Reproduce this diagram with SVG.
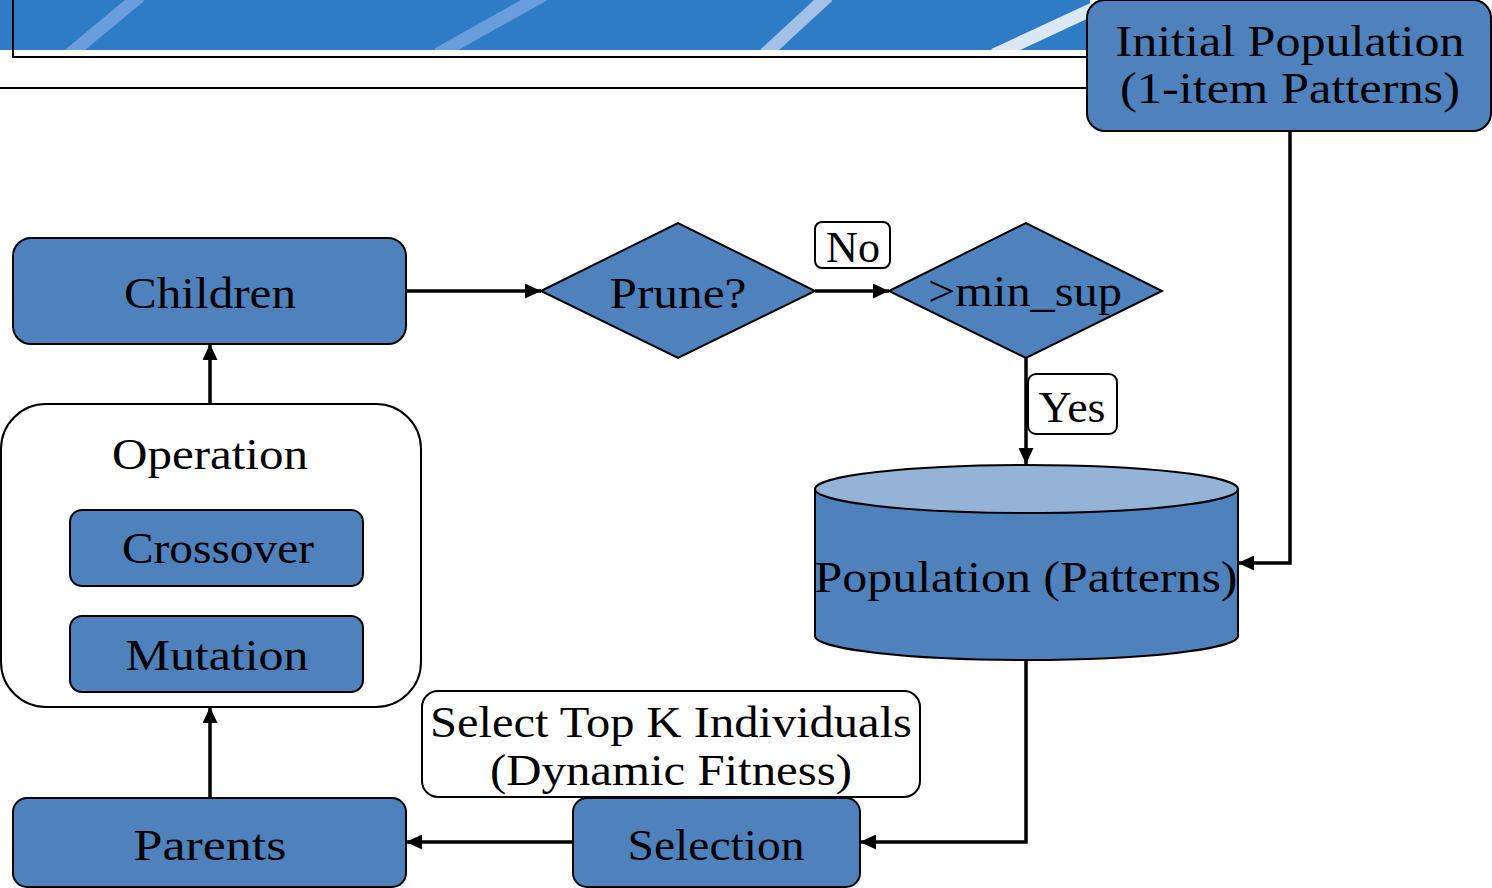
<svg xmlns="http://www.w3.org/2000/svg" width="1492" height="888" viewBox="0 0 1492 888">
  <style>
    .node { fill: #4f81bd; stroke: #000; stroke-width: 2; }
    .plain { fill: #fff; stroke: #000; stroke-width: 2; }
    .lbl { font-family: "Liberation Serif", "DejaVu Serif", serif; font-size: 44px; fill: #000; text-anchor: middle; }
    .edge { fill: none; stroke: #000; stroke-width: 3.5; }
    .stripe { fill: none; stroke-width: 13; stroke-linecap: butt; }
  </style>
  <defs>
    <marker id="arrow" markerUnits="userSpaceOnUse" markerWidth="17" markerHeight="15" refX="16" refY="7.5" orient="auto">
      <path d="M0,0 L16,7.5 L0,15 Z" fill="#000"/>
    </marker>
    <clipPath id="bannerClip">
      <rect x="0" y="0" width="1090" height="50"/>
    </clipPath>
  </defs>

  <!-- header banner -->
  <g id="banner">
    <rect x="0" y="0" width="1090" height="50" fill="#2e7bc6"/>
    <g clip-path="url(#bannerClip)">
      <path class="stripe" d="M70,54 L140,-4" stroke="#6a9ddb"/>
      <path class="stripe" d="M438,54 L545,-6" stroke="#6a9ddb"/>
      <path class="stripe" d="M765,54 L828,-4" stroke="#a3c0e6"/>
      <path class="stripe" d="M994,55 L1095,8" stroke="#dbe7f5"/>
    </g>
    <rect x="0" y="50" width="1090" height="6" fill="#fbfcfe"/>
    <path d="M13,0 L13,57 L1088,57" fill="none" stroke="#000" stroke-width="2"/>
    <path d="M0,88 L1088,88" fill="none" stroke="#000" stroke-width="2"/>
  </g>

  <!-- connectors -->
  <g id="connectors">
    <path class="edge" d="M406,291 L541,291" marker-end="url(#arrow)"/>
    <path class="edge" d="M815,291 L889,291" marker-end="url(#arrow)"/>
    <path class="edge" d="M1026,358 L1026,464" marker-end="url(#arrow)"/>
    <path class="edge" d="M1290,131 L1290,563 L1238,563" marker-end="url(#arrow)"/>
    <path class="edge" d="M1026,660 L1026,842 L860,842" marker-end="url(#arrow)"/>
    <path class="edge" d="M573,842 L406,842" marker-end="url(#arrow)"/>
    <path class="edge" d="M210,797 L210,707" marker-end="url(#arrow)"/>
    <path class="edge" d="M210,404 L210,344" marker-end="url(#arrow)"/>
  </g>

  <g id="initial-population">
    <rect class="node" x="1087" y="0" width="404" height="131" rx="18"/>
    <text class="lbl" x="1290" y="56" textLength="349" lengthAdjust="spacingAndGlyphs">Initial Population</text>
    <text class="lbl" x="1290" y="103" textLength="340" lengthAdjust="spacingAndGlyphs">(1-item Patterns)</text>
  </g>

  <g id="children">
    <rect class="node" x="13" y="238" width="393" height="106" rx="18"/>
    <text class="lbl" x="210" y="308" textLength="172" lengthAdjust="spacingAndGlyphs">Children</text>
  </g>

  <g id="prune">
    <polygon class="node" points="541,291 678,223 815,291 678,358"/>
    <text class="lbl" x="678" y="308" textLength="137" lengthAdjust="spacingAndGlyphs">Prune?</text>
  </g>

  <g id="label-no">
    <rect class="plain" x="815" y="222" width="75" height="46" rx="7"/>
    <text class="lbl" x="853" y="262" textLength="54" lengthAdjust="spacingAndGlyphs">No</text>
  </g>

  <g id="min-sup">
    <polygon class="node" points="889,291 1026,223 1162,291 1026,358"/>
    <text class="lbl" x="1025" y="306" textLength="194" lengthAdjust="spacingAndGlyphs">&gt;min_sup</text>
  </g>

  <g id="label-yes">
    <rect class="plain" x="1028" y="374" width="89" height="60" rx="8"/>
    <text class="lbl" x="1072" y="422" textLength="67" lengthAdjust="spacingAndGlyphs">Yes</text>
  </g>

  <g id="population">
    <path class="node" d="M815,489 L815,636 A211.5,24 0 0 0 1238,636 L1238,489 Z"/>
    <ellipse cx="1026.5" cy="489" rx="211.5" ry="24" fill="#95b3d7" stroke="#000" stroke-width="2"/>
    <text class="lbl" x="1026" y="592" textLength="423" lengthAdjust="spacingAndGlyphs">Population (Patterns)</text>
  </g>

  <g id="operation">
    <rect class="plain" x="1" y="404" width="420" height="303" rx="45"/>
    <text class="lbl" x="210" y="469" textLength="196" lengthAdjust="spacingAndGlyphs">Operation</text>
    <g id="crossover">
      <rect class="node" x="70" y="510" width="293" height="76" rx="12"/>
      <text class="lbl" x="218" y="563" textLength="192" lengthAdjust="spacingAndGlyphs">Crossover</text>
    </g>
    <g id="mutation">
      <rect class="node" x="70" y="616" width="293" height="76" rx="12"/>
      <text class="lbl" x="217" y="670" textLength="183" lengthAdjust="spacingAndGlyphs">Mutation</text>
    </g>
  </g>

  <g id="select-note">
    <rect class="plain" x="422" y="691" width="498" height="106" rx="16"/>
    <text class="lbl" x="671" y="737" textLength="482" lengthAdjust="spacingAndGlyphs">Select Top K Individuals</text>
    <text class="lbl" x="671" y="785" textLength="362" lengthAdjust="spacingAndGlyphs">(Dynamic Fitness)</text>
  </g>

  <g id="selection">
    <rect class="node" x="573" y="798" width="287" height="89" rx="14"/>
    <text class="lbl" x="716" y="860" textLength="177" lengthAdjust="spacingAndGlyphs">Selection</text>
  </g>

  <g id="parents">
    <rect class="node" x="13" y="798" width="393" height="89" rx="14"/>
    <text class="lbl" x="210" y="860" textLength="153" lengthAdjust="spacingAndGlyphs">Parents</text>
  </g>
</svg>
